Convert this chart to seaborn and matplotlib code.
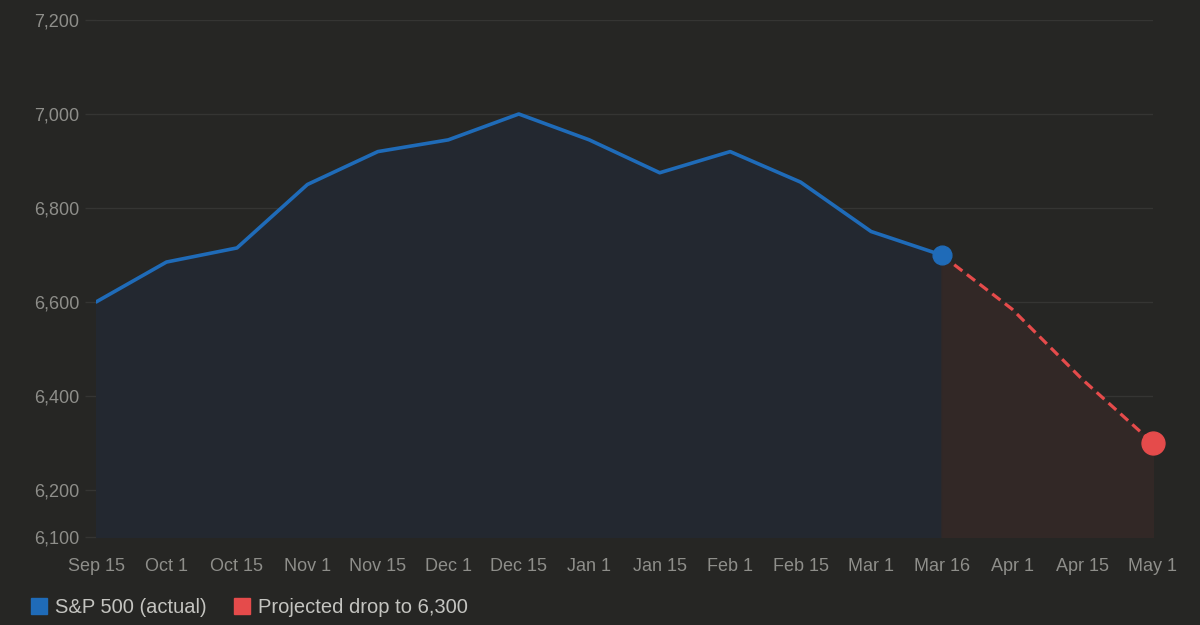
#importing libraries
import numpy as np
import pandas as pd
import matplotlib
matplotlib.use("Agg")
import matplotlib.pyplot as plt
from matplotlib.lines import Line2D
import seaborn as sns

#data
dates = ["Sep 15", "Oct 1", "Oct 15", "Nov 1", "Nov 15", "Dec 1", "Dec 15",
         "Jan 1", "Jan 15", "Feb 1", "Feb 15", "Mar 1", "Mar 16",
         "Apr 1", "Apr 15", "May 1"]
actual_values = [6600, 6685, 6715, 6850, 6920, 6945, 7000,
                 6945, 6875, 6920, 6855, 6750, 6700]
projected_dates = ["Mar 16", "Apr 1", "Apr 15", "May 1"]
projected_values = [6700, 6585, 6435, 6300]
y_ticks = [6100, 6200, 6400, 6600, 6800, 7000, 7200]

bg = "#262624"
blue = "#1f6bb8"
red = "#e54b4b"
label_col = "#8e8e8a"

sns.set_theme(style="dark", rc={"axes.facecolor": bg, "figure.facecolor": bg})
plt.rcParams["font.family"] = ["Liberation Sans", "DejaVu Sans"]

#build frames with positions on the category axis
pos = {d: i for i, d in enumerate(dates)}
df_actual = pd.DataFrame({"x": [pos[d] for d in dates[:len(actual_values)]],
                          "value": actual_values})
df_proj = pd.DataFrame({"x": [pos[d] for d in projected_dates],
                        "value": projected_values})

fig = plt.figure(figsize=(12, 6.25), dpi=100)
ax = fig.add_axes([0.08, 0.1408, 0.8808, 0.8272])

# shaded areas under the lines
ax.fill_between(df_actual["x"], df_actual["value"], 6100, color="#232830", zorder=1)
ax.fill_between(df_proj["x"], df_proj["value"], 6100, color="#322826", zorder=1)

sns.lineplot(data=df_actual, x="x", y="value", ax=ax, color=blue,
             linewidth=2.6, zorder=3)
sns.lineplot(data=df_proj, x="x", y="value", ax=ax, color=red,
             linewidth=2.3, zorder=3, dashes=False)
ax.lines[-1].set_linestyle((0, (3.2, 1.8)))

# end markers
ax.plot(df_actual["x"].iloc[-1], df_actual["value"].iloc[-1], "o",
        color=blue, markersize=13.5, zorder=4)
ax.plot(df_proj["x"].iloc[-1], df_proj["value"].iloc[-1], "o",
        color=red, markersize=16.5, zorder=4, clip_on=False)

ax.set_xlim(0, len(dates) - 1)
ax.set_ylim(6100, 7200)
ax.set_xticks(range(len(dates)))
ax.set_xticklabels(dates)
ax.set_yticks(y_ticks)
ax.set_yticklabels([f"{v:,}" for v in y_ticks])
ax.set_xlabel("")
ax.set_ylabel("")

ax.grid(axis="y", color="#353533", linewidth=1)
ax.grid(axis="x", visible=False)
for s in ax.spines.values():
    s.set_visible(False)
ax.tick_params(axis="y", length=8, width=1, color="#353533", colors=label_col,
               labelsize=13, pad=4, left=True)
ax.tick_params(axis="y", color="#353533")
ax.tick_params(axis="x", length=0, colors=label_col, labelsize=13, pad=15)

handles = [Line2D([], [], marker="s", linestyle="", color=blue, markersize=11.5),
           Line2D([], [], marker="s", linestyle="", color=red, markersize=11.5)]
fig.legend(handles, ["S&P 500 (actual)", "Projected drop to 6,300"],
           loc="lower left", bbox_to_anchor=(0.01, -0.016), ncol=2, frameon=False,
           fontsize=14.5, labelcolor="#c4c4c0", handletextpad=0.35,
           columnspacing=1.3, handlelength=0.9)

fig.savefig("out.png", dpi=100, facecolor=bg)
